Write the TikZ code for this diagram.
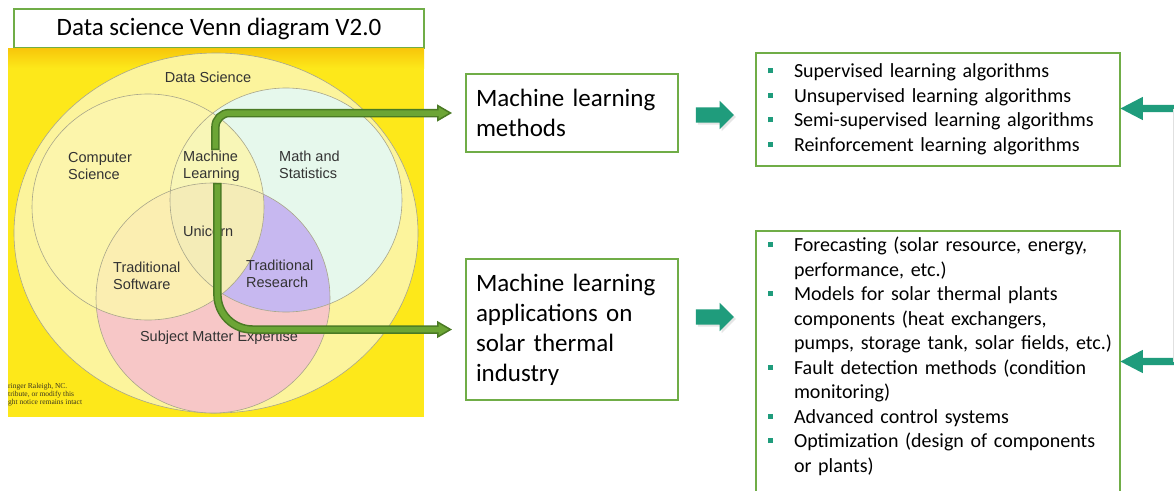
\documentclass[tikz,border=0pt]{standalone}
\usepackage{fontspec}
\setmainfont{Carlito}
\newfontfamily\vennfont{Liberation Sans}
\newfontfamily\notefont{Liberation Serif}
\usetikzlibrary{positioning,shapes.arrows,arrows.meta,shadows}

\definecolor{boxgreen}{HTML}{70AD47}
\definecolor{mllight}{HTML}{6CA535}
\definecolor{mldark}{HTML}{4A7A24}
\definecolor{tealarr}{HTML}{1F9C7C}
\definecolor{bgyellow}{HTML}{FDE81A}
\definecolor{bgtop}{HTML}{F7C60A}
\definecolor{dsyellow}{HTML}{FCF49C}
\definecolor{csyellow}{HTML}{FCF6AE}
\definecolor{msmint}{HTML}{E6F8EC}
\definecolor{smepink}{HTML}{F7C7C7}
\definecolor{trpurple}{HTML}{C7B8F0}
\definecolor{vennline}{HTML}{A9A68A}
\definecolor{venntext}{HTML}{333333}
\definecolor{notetext}{HTML}{3B3520}

% list item with a small square bullet
\newcommand{\bitem}[1]{\hangindent=36pt\hangafter=1\noindent\makebox[36pt][l]{\hspace{10pt}\raisebox{4.5pt}{\textcolor{tealarr}{\rule{5pt}{5pt}}}}#1\par}

\begin{document}
\begin{tikzpicture}[x=1pt, y=-1pt,
  greenbox/.style = {draw=boxgreen, line width=2pt, fill=white},
  vennlabel/.style = {font=\vennfont\fontsize{14.5}{17}\selectfont, text=venntext, inner sep=1pt, align=left},
  vennset/.style = {draw=vennline, line width=0.6pt},
  note/.style = {font=\notefont\fontsize{7.5}{8}\selectfont, text=notetext, inner sep=0pt, anchor=west},
  mlout/.style = {draw=mldark, line width=8.5pt, shorten >=13pt, -{Triangle[length=15pt,width=17pt,line width=1.5pt,fill=mllight]}},
  mlin/.style = {draw=mllight, line width=5.5pt, shorten >=25pt, shorten <=1.5pt},
  fwdarrow/.style = {single arrow, fill=tealarr, minimum height=38pt, inner xsep=0pt, inner ysep=7.5pt, single arrow head extend=6.5pt, single arrow tip angle=90, drop shadow={shadow xshift=2pt, shadow yshift=-2pt, opacity=0.2}},
  backarrow/.style = {single arrow, shape border rotate=180, fill=tealarr, minimum height=75pt, inner xsep=0pt, inner ysep=3.5pt, single arrow head extend=8pt, single arrow tip angle=55},
  textbox/.style = {greenbox, anchor=north west, text width=192pt, inner xsep=10pt, font=\fontsize{25}{30}\selectfont, align=left},
  listbox/.style = {greenbox, anchor=north west, text width=360pt, inner xsep=2pt, inner ysep=6pt, font=\fontsize{20}{24.5}\selectfont, align=left}]

  \path[use as bounding box, clip] (0,0) rectangle (1174,490);
  \fill[white] (0,0) rectangle (1174,490);

  \node[greenbox, minimum width=410pt, minimum height=39pt, inner sep=0pt, font=\fontsize{25}{30}\selectfont] (title) at (219,28.5) {Data science Venn diagram V2.0};

  % venn picture
  \fill[bgyellow] (8,48) rectangle (424,417);
  \shade[top color=bgtop, bottom color=bgyellow] (8,48) rectangle (424,68);
  \filldraw[vennset, fill=dsyellow] (216,233) ellipse [x radius=202, y radius=180];
  \fill[smepink] (213,298) ellipse [x radius=117, y radius=115];
  \fill[msmint] (286,200) ellipse [x radius=116, y radius=112];
  \begin{scope}
    \clip (213,298) ellipse [x radius=117, y radius=115];
    \fill[trpurple] (286,200) ellipse [x radius=116, y radius=112];
  \end{scope}
  \fill[csyellow, fill opacity=0.85] (148,207) ellipse [x radius=116, y radius=113];
  \draw[vennset] (148,207) ellipse [x radius=116, y radius=113];
  \draw[vennset] (286,200) ellipse [x radius=116, y radius=112];
  \draw[vennset] (213,298) ellipse [x radius=117, y radius=115];

  \node[vennlabel] (ds) at (208,77) {Data Science};
  \node[vennlabel, anchor=west] (cs) at (67,166.5) {Computer\\Science};
  \node[vennlabel, anchor=west] (ml) at (182,166.5) {Machine\\Learning};
  \node[vennlabel, anchor=west] (ms) at (278,165) {Math and\\Statistics};
  \node[vennlabel, anchor=west] (uni) at (182,231) {Unicorn};
  \node[vennlabel, anchor=west] (tsw) at (112,276) {Traditional\\Software};
  \node[vennlabel, anchor=west] (tres) at (245,273.5) {Traditional\\Research};
  \node[vennlabel] (sme) at (219,338) {Subject Matter Expertise};

  \node[note] (note1) at (8,387) {ringer Raleigh, NC.};
  \node[note] (note2) at (8,395) {tribute, or modify this};
  \node[note] (note3) at (8,403) {ght notice remains intact};

  % boxes
  \node[textbox, minimum height=78pt] (methods) at (465,73) {Machine learning\\methods};
  \node[textbox, minimum height=141pt] (apps) at (465,258) {Machine learning\\applications on\\solar thermal\\industry};

  \node[listbox, minimum height=113pt] (list1) at (755,52) {%
    \bitem{Supervised learning algorithms}%
    \bitem{Unsupervised learning algorithms}%
    \bitem{Semi-supervised learning algorithms}%
    \bitem{Reinforcement learning algorithms}};
  \node[listbox, text depth=250pt] (list2) at (755,230) {%
    \bitem{Forecasting (solar resource, energy,\newline performance, etc.)}%
    \bitem{Models for solar thermal plants\newline components (heat exchangers,\newline pumps, storage tank, solar fields, etc.)}%
    \bitem{Fault detection methods (condition\newline monitoring)}%
    \bitem{Advanced control systems}%
    \bitem{Optimization (design of components\newline or plants)}};

  \node[fwdarrow] (fwd1) at (711,115) {};
  \node[fwdarrow] (fwd2) at (711,317) {};
  \node[backarrow, anchor=tip] (back1) at (1120,108.5) {};
  \node[backarrow, anchor=tip] (back2) at (1120,361.5) {};
  \draw[black!12, line width=0.4pt] ([xshift=53.5pt]back1.tip) -- ([xshift=53.5pt]back2.tip);

  % arrows out of the venn
  \draw[mlout, rounded corners=14pt] ([xshift=4pt]ml.north) |- (methods.west);
  \draw[mlin, rounded corners=14pt] ([xshift=4pt]ml.north) |- (methods.west);
  \draw[mlout, rounded corners=35pt] ([xshift=6pt]ml.south) |- (apps.west);
  \draw[mlin, rounded corners=35pt] ([xshift=6pt]ml.south) |- (apps.west);
\end{tikzpicture}
\end{document}
